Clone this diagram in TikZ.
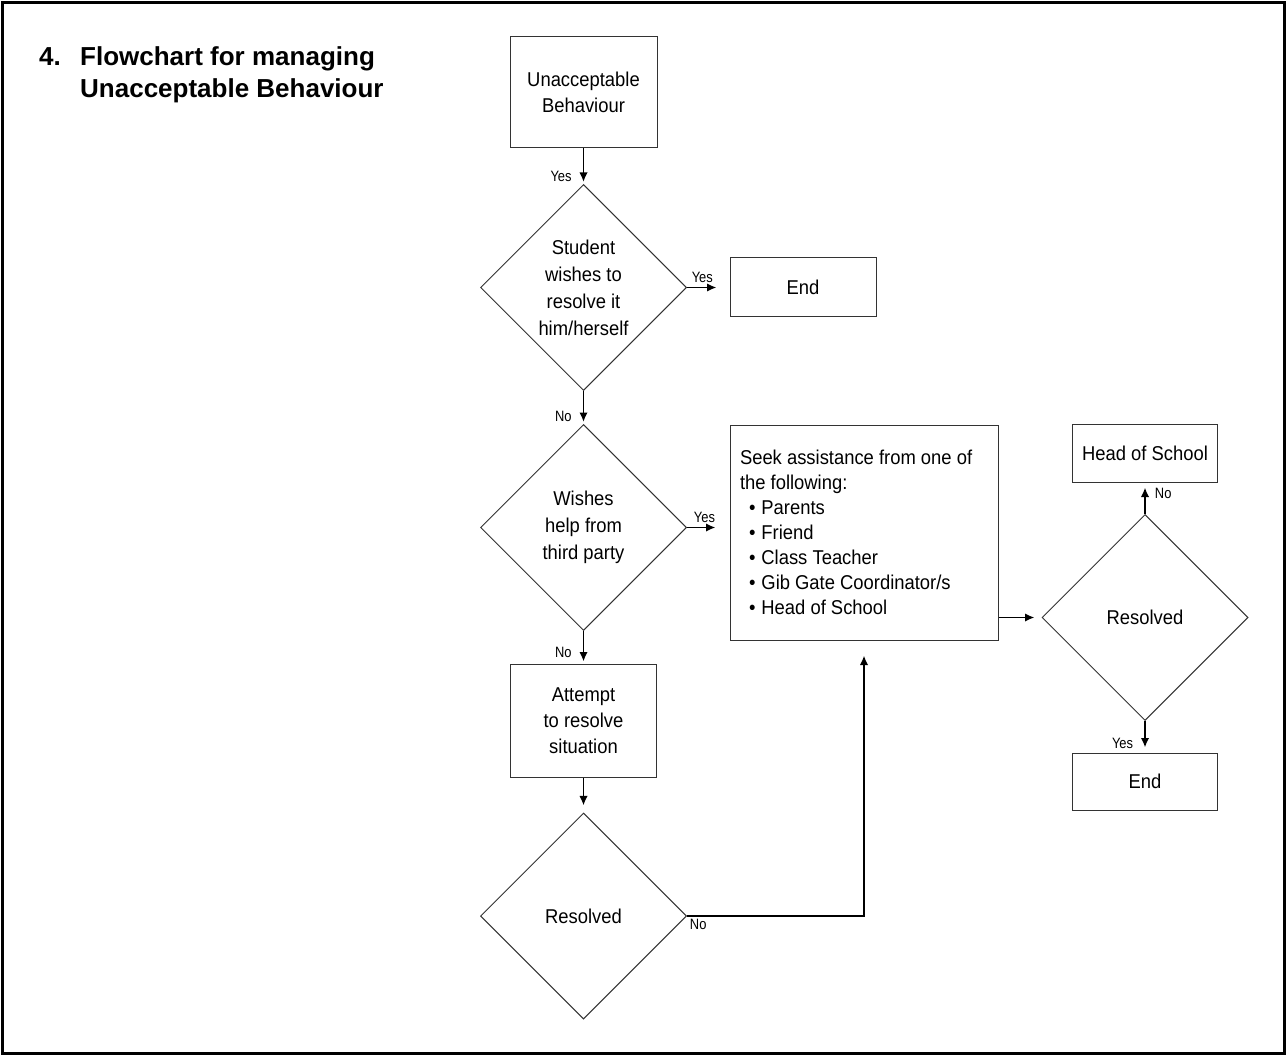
\documentclass[tikz,border=0pt]{standalone}
\usepackage{fontspec}
\setmainfont{Liberation Sans}
\newfontfamily\flowfont{Liberation Sans}[FakeStretch=0.92]
\newfontfamily\tagfont{Liberation Sans}[FakeStretch=0.86]
\usetikzlibrary{shapes.geometric,arrows.meta}

\tikzset{
  box/.style={rectangle,draw=black!80,line width=1pt,align=center,inner sep=0pt,
    font=\flowfont\fontsize{20}{26}\selectfont},
  decision/.style={diamond,aspect=1,draw=black!80,line width=1pt,align=center,inner sep=0pt,
    minimum width=206pt,minimum height=206pt,font=\flowfont\fontsize{20}{27}\selectfont},
  flow/.style={-{Latex[length=9.5pt,width=8.5pt]},line width=1.9pt},
  tag/.style={font=\tagfont\fontsize{15}{15}\selectfont,inner sep=1pt}
}

\begin{document}
\begin{tikzpicture}[x=1pt,y=-1pt]
\useasboundingbox (0,0) rectangle (1287,1056);
\draw[line width=3pt] (2.5,2.5) rectangle (1284.5,1053.5);

\node[anchor=north west,inner sep=0pt,align=left,font=\bfseries\fontsize{26}{32}\selectfont]
  at (39,46) (title) {\makebox[41pt][l]{4.}Flowchart for managing\\
  \hspace*{41pt}Unacceptable Behaviour};

\node[box,minimum width=147pt,minimum height=111pt] at (583.5,92.5) (start) {Unacceptable\\Behaviour};
\node[decision] at (583.5,287.5) (self) {Student\\wishes to\\resolve it\\him/herself};
\node[box,minimum width=146pt,minimum height=59pt] at (803,287.5) (end1) {End};
\node[decision] at (583.5,527.5) (third) {Wishes\\help from\\third party};
\node[box,minimum width=268pt,minimum height=215pt,align=flush left,text width=248pt,
  font=\flowfont\fontsize{20}{25}\selectfont] at (864,532.5) (seek)
  {Seek assistance from one of\\the following:\\
   \hspace*{9pt}\textbullet\hspace{6pt}Parents\\
   \hspace*{9pt}\textbullet\hspace{6pt}Friend\\
   \hspace*{9pt}\textbullet\hspace{6pt}Class Teacher\\
   \hspace*{9pt}\textbullet\hspace{6pt}Gib Gate Coordinator/s\\
   \hspace*{9pt}\textbullet\hspace{6pt}Head of School};
\node[box,minimum width=146pt,minimum height=113pt] at (583.5,720.5) (attempt) {Attempt\\to resolve\\situation};
\node[decision] at (583.5,916) (fix) {Resolved};
\node[decision] at (1145,617.5) (check) {Resolved};
\node[box,minimum width=145pt,minimum height=58pt] at (1145,453) (head) {Head of School};
\node[box,minimum width=145pt,minimum height=57pt] at (1145,781.5) (end2) {End};

% left column
\draw[flow,shorten >=2pt] (start) -- (self) node[tag,pos=0.78,left=10pt] {Yes};
\draw[flow,shorten >=13pt] (self) -- (end1) node[tag,pos=0.36,above=3pt] {Yes};
\draw[flow,shorten >=2pt] (self) -- (third) node[tag,pos=0.78,left=10pt] {No};
\draw[flow,shorten >=14pt] (third.east) -- (third.east -| seek.west) node[tag,pos=0.41,above=3pt] {Yes};
\draw[flow,shorten >=2pt] (third) -- (attempt) node[tag,pos=0.65,left=10pt] {No};
\draw[flow,shorten >=7pt] (attempt) -- (fix);
\draw[flow,shorten >=15pt] (fix.east) node[tag,anchor=north west,inner sep=2pt] {No} -| (seek.south);

% right column
\draw[flow,shorten >=7pt] (check.west -| seek.east) -- (check.west);
\draw[flow,shorten >=5pt] (check) -- (head) node[tag,pos=0.64,right=8pt] {No};
\draw[flow,shorten >=5pt] (check) -- (end2) node[tag,pos=0.7,left=10pt] {Yes};
\end{tikzpicture}
\end{document}
